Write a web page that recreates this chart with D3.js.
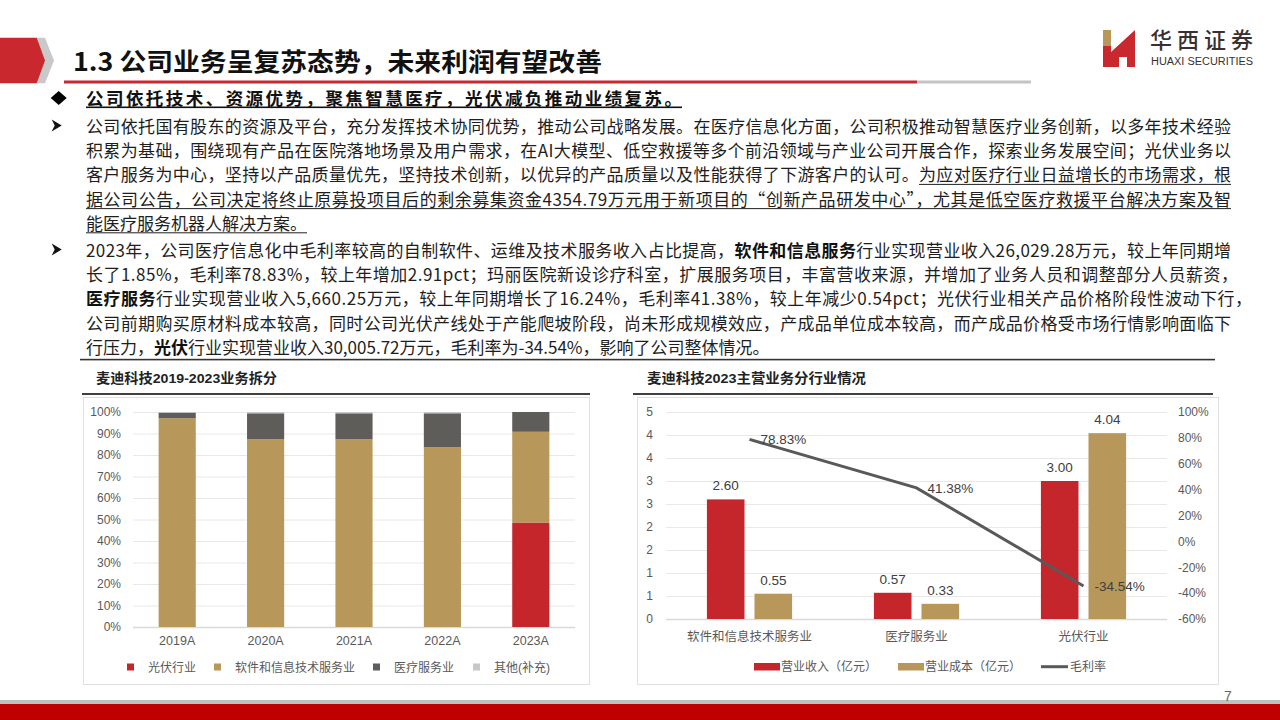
<!DOCTYPE html>
<html><head><meta charset="utf-8">
<script src="https://cdn.jsdelivr.net/npm/d3@7"></script>
<style>
body{margin:0;background:#fff;}
svg{display:block;}
text{font-family:"Noto Sans CJK SC","Noto Sans",sans-serif;}
.ch text{font-family:"Liberation Sans","Noto Sans CJK SC",sans-serif;}
</style></head>
<body>
<svg id="s" width="1280" height="720"></svg>
<script>
// ---------- data ----------
const years = ["2019A","2020A","2021A","2022A","2023A"];
const pvShare    = [0, 0, 0, 0, 48.6];
const swShare    = [97.1, 87.3, 87.3, 83.6, 42.2];
const medShare   = [2.6, 12.1, 12.1, 15.8, 9.2];
const otherShare = [0.3, 0.6, 0.6, 0.6, 0.0];
const shareKeys  = ["光伏行业","软件和信息技术服务业","医疗服务业","其他(补充)"];
const shareTicks = [0,10,20,30,40,50,60,70,80,90,100];

const segments = ["软件和信息技术服务业","医疗服务业","光伏行业"];
const revenue  = [2.60, 0.57, 3.00];
const cost     = [0.55, 0.33, 4.04];
const margin   = [78.83, 41.38, -34.54];
const amountTicks      = [0,0.5,1,1.5,2,2.5,3,3.5,4,4.5];
const amountTickLabels = ["0","1","1","2","2","3","3","4","4","5"];
const marginTicks = [-60,-40,-20,0,20,40,60,80,100];
const legendR = ["营业收入（亿元）","营业成本（亿元）","毛利率"];

// ---------- styles ----------
const RED="#C5262C", TAN="#B8975A", DARK="#5E5D5A", LIGHT="#C8C8C8", TXT="#595959";
const svg = d3.select("#s");

// ---------- header ----------
svg.append("polygon").attr("points","37,37.7 45,37.7 54,60.5 45,83.3 37,83.3").attr("fill","#C9C9C9");
svg.append("polygon").attr("points","0,37.7 36.7,37.7 45,60.5 36.7,83.3 0,83.3").attr("fill","#C8282E");
svg.append("text").attr("x",73).attr("y",71).attr("font-size",25).attr("font-weight","bold")
  .attr("fill","#111").attr("textLength",529).attr("lengthAdjust","spacingAndGlyphs")
  .text("1.3 公司业务呈复苏态势，未来利润有望改善");
svg.append("rect").attr("x",64).attr("y",80.5).attr("width",853).attr("height",3).attr("fill","#C8282E");
svg.append("rect").attr("x",917).attr("y",80.5).attr("width",114).attr("height",3).attr("fill","#C4C4C4");

// logo
svg.append("rect").attr("x",1103).attr("y",30).attr("width",8).attr("height",16).attr("fill","#B8975A");
svg.append("rect").attr("x",1103).attr("y",46).attr("width",8).attr("height",21).attr("fill","#C8282E");
svg.append("polygon").attr("points","1111,52 1135,30 1135,67 1127,67 1127,57 1119,57 1119,67 1111,67").attr("fill","#C8282E");
svg.append("text").attr("x",1150).attr("y",48).attr("font-size",22).attr("font-weight",500)
  .attr("fill","#3a3030").attr("textLength",103).attr("lengthAdjust","spacing").text("华西证券");
svg.append("text").attr("x",1151).attr("y",64.5).attr("font-size",10).attr("fill","#3a3030")
  .style("font-family","Liberation Sans Narrow, Liberation Sans").attr("textLength",102).attr("lengthAdjust","spacingAndGlyphs")
  .text("HUAXI SECURITIES");

// ---------- bullet text ----------
svg.append("polygon").attr("points","50.7,98 58.7,91 66.7,98 58.7,105").attr("fill","#000");
svg.append("text").attr("x",86).attr("y",105).attr("font-size",17.5).attr("font-weight","bold").attr("fill","#111")
  .attr("textLength",596).attr("lengthAdjust","spacing")
  .text("公司依托技术、资源优势，聚焦智慧医疗，光伏减负推动业绩复苏。");
svg.append("rect").attr("x",86).attr("y",106.5).attr("width",596).attr("height",1.6).attr("fill","#111");

const para = [
  {y:133, arrow:true, len:1145, segs:[["公司依托国有股东的资源及平台，充分发挥技术协同优势，推动公司战略发展。在医疗信息化方面，公司积极推动智慧医疗业务创新，以多年技术经验",0,0]]},
  {y:157.2, len:1145, segs:[["积累为基础，围绕现有产品在医院落地场景及用户需求，在AI大模型、低空救援等多个前沿领域与产业公司开展合作，探索业务发展空间；光伏业务以",0,0]]},
  {y:181.4, len:1145, segs:[["客户服务为中心，坚持以产品质量优先，坚持技术创新，以优异的产品质量以及性能获得了下游客户的认可。",0,0],["为应对医疗行业日益增长的市场需求，根",0,1]]},
  {y:205.6, len:1145, segs:[["据公司公告，公司决定将终止原募投项目后的剩余募集资金4354.79万元用于新项目的“创新产品研发中心”，尤其是低空医疗救援平台解决方案及智",0,1]]},
  {y:229.8, segs:[["能医疗服务机器人解决方案。",0,1]]},
  {y:257, arrow:true, len:1145, segs:[["2023年，公司医疗信息化中毛利率较高的自制软件、运维及技术服务收入占比提高，",0,0],["软件和信息服务",1,0],["行业实现营业收入26,029.28万元，较上年同期增",0,0]]},
  {y:281.2, len:1152, segs:[["长了1.85%，毛利率78.83%，较上年增加2.91pct；玛丽医院新设诊疗科室，扩展服务项目，丰富营收来源，并增加了业务人员和调整部分人员薪资，",0,0]]},
  {y:305.4, len:1166, segs:[["医疗服务",1,0],["行业实现营业收入5,660.25万元，较上年同期增长了16.24%，毛利率41.38%，较上年减少0.54pct；光伏行业相关产品价格阶段性波动下行，",0,0]]},
  {y:329.6, len:1145, segs:[["公司前期购买原材料成本较高，同时公司光伏产线处于产能爬坡阶段，尚未形成规模效应，产成品单位成本较高，而产成品价格受市场行情影响面临下",0,0]]},
  {y:353.8, segs:[["行压力，",0,0],["光伏",1,0],["行业实现营业收入30,005.72万元，毛利率为-34.54%，影响了公司整体情况。",0,0]]}
];
para.forEach(p=>{
  if(p.arrow){
    const c=p.y-7.5;
    svg.append("polygon").attr("points",`51.7,${c-6} 61.7,${c} 51.7,${c+6} 54.7,${c}`).attr("fill","#111");
  }
  const t = svg.append("text").attr("x",86).attr("y",p.y).attr("font-size",17).attr("fill","#1e1e1e");
  if(p.len) t.attr("textLength",p.len).attr("lengthAdjust","spacing");
  p.segs.forEach(s=>{
    const ts=t.append("tspan").text(s[0]);
    if(s[1]) ts.attr("font-weight","bold").attr("fill","#111");
  });
  const node=t.node();
  let idx=0;
  p.segs.forEach(s=>{
    const n=[...s[0]].length;
    if(s[2]){
      const x0=node.getStartPositionOfChar(idx).x;
      const x1=node.getEndPositionOfChar(idx+n-1).x;
      svg.append("rect").attr("x",x0).attr("y",p.y+2.5).attr("width",x1-x0).attr("height",1).attr("fill","#222");
    }
    idx+=n;
  });
});
svg.append("rect").attr("x",80).attr("y",358.8).attr("width",1135).attr("height",1.6).attr("fill","#333");

// ---------- left chart ----------
const L = svg.append("g").attr("class","ch");
L.append("text").attr("x",96).attr("y",383).attr("font-size",13.5).attr("font-weight","bold").attr("fill","#222")
  .attr("textLength",181).attr("lengthAdjust","spacingAndGlyphs").text("麦迪科技2019-2023业务拆分");
L.append("rect").attr("x",82).attr("y",393).attr("width",508).attr("height",2).attr("fill","#404040");
L.append("rect").attr("x",83.5).attr("y",397.5).attr("width",506).attr("height",287).attr("fill","#fff").attr("stroke","#E0E0E0");

const xL = d3.scaleBand().domain(years).range([133,575]).paddingInner(0.58).paddingOuter(0.29);
const yL = d3.scaleLinear().domain([0,100]).range([627,412]);
const gridL = L.append("g").attr("transform","translate(133,0)")
  .call(d3.axisLeft(yL).tickValues(shareTicks).tickSize(-442).tickPadding(12).tickFormat(d=>d+"%"));
gridL.select(".domain").remove();
gridL.selectAll("line").attr("stroke",d=>d===0?"#D9D9D9":"#E8E8E8").attr("stroke-width",d=>d===0?1.5:1);
gridL.selectAll("text").attr("fill",TXT).attr("font-size",12);

const table = years.map((y,i)=>({year:y,"光伏行业":pvShare[i],"软件和信息技术服务业":swShare[i],"医疗服务业":medShare[i],"其他(补充)":otherShare[i]}));
const stack = d3.stack().keys(shareKeys)(table);
const colL = d3.scaleOrdinal().domain(shareKeys).range([RED,TAN,DARK,LIGHT]);
L.append("g").selectAll("g").data(stack).join("g").attr("fill",d=>colL(d.key))
  .selectAll("rect").data(d=>d).join("rect")
  .attr("x",d=>xL(d.data.year)).attr("width",xL.bandwidth())
  .attr("y",d=>yL(d[1])).attr("height",d=>Math.max(0,yL(d[0])-yL(d[1])));
const axL = L.append("g").attr("transform","translate(0,627)")
  .call(d3.axisBottom(xL).tickSize(0).tickPadding(9));
axL.select(".domain").remove();
axL.selectAll("text").attr("fill",TXT).attr("font-size",12.5);

const legLx = [127,214,373,473];
shareKeys.forEach((k,i)=>{
  L.append("rect").attr("x",legLx[i]).attr("y",663.5).attr("width",7).attr("height",7).attr("fill",colL(k));
  L.append("text").attr("x",legLx[i]+21).attr("y",671.5).attr("font-size",12).attr("fill",TXT).text(k);
});

// ---------- right chart ----------
const R = svg.append("g").attr("class","ch");
R.append("text").attr("x",647).attr("y",383).attr("font-size",13.5).attr("font-weight","bold").attr("fill","#222")
  .attr("textLength",219).attr("lengthAdjust","spacingAndGlyphs").text("麦迪科技2023主营业务分行业情况");
R.append("rect").attr("x",633).attr("y",393).attr("width",580).attr("height",2).attr("fill","#404040");
R.append("rect").attr("x",637.5).attr("y",397.5).attr("width",581).attr("height",287).attr("fill","#fff").attr("stroke","#E0E0E0");

const x0 = d3.scaleBand().domain(segments).range([666,1167]).paddingInner(0.49).paddingOuter(0.245);
const x1 = d3.scaleBand().domain(["rev","cost"]).range([0,x0.bandwidth()]).paddingInner(0.21);
const yA = d3.scaleLinear().domain([0,4.5]).range([619,412]);
const yM = d3.scaleLinear().domain([-60,100]).range([619,412]);

const gA = R.append("g").attr("transform","translate(666,0)")
  .call(d3.axisLeft(yA).tickValues(amountTicks).tickSize(-501).tickPadding(13).tickFormat((d,i)=>amountTickLabels[i]));
gA.select(".domain").remove();
gA.selectAll("line").attr("stroke",d=>d===0?"#D9D9D9":"#E8E8E8").attr("stroke-width",d=>d===0?1.5:1.2);
gA.selectAll("text").attr("fill",TXT).attr("font-size",12);
const gM = R.append("g").attr("transform","translate(1167,0)")
  .call(d3.axisRight(yM).tickValues(marginTicks).tickSize(0).tickPadding(11).tickFormat(d=>d+"%"));
gM.select(".domain").remove();
gM.selectAll("text").attr("fill",TXT).attr("font-size",12);

const rows = segments.map((s,i)=>({seg:s,rev:revenue[i],cost:cost[i],m:margin[i]}));
const grp = R.append("g").selectAll("g").data(rows).join("g").attr("transform",d=>`translate(${x0(d.seg)},0)`);
[["rev",RED],["cost",TAN]].forEach(([k,c])=>{
  grp.append("rect").attr("x",x1(k)).attr("width",x1.bandwidth())
    .attr("y",d=>yA(d[k])).attr("height",d=>yA(0)-yA(d[k])).attr("fill",c);
  grp.append("text").attr("x",x1(k)+x1.bandwidth()/2).attr("y",d=>yA(d[k])-9)
    .attr("text-anchor","middle").attr("font-size",13.5).attr("fill","#404040").text(d=>d[k].toFixed(2));
});
const cx = d=>x0(d.seg)+x0.bandwidth()/2;
R.append("path").datum(rows).attr("fill","none").attr("stroke","#595959").attr("stroke-width",3)
  .attr("d",d3.line().x(cx).y(d=>yM(d.m)));
R.append("g").selectAll("text").data(rows).join("text")
  .attr("x",d=>cx(d)+11).attr("y",d=>yM(d.m)+5).attr("font-size",13.5).attr("fill","#404040")
  .text(d=>d.m.toFixed(2)+"%");

const axR = R.append("g").attr("transform","translate(0,619)")
  .call(d3.axisBottom(x0).tickSize(0).tickPadding(13));
axR.select(".domain").remove();
axR.selectAll("text").attr("fill",TXT).attr("font-size",12.5);

R.append("rect").attr("x",754).attr("y",663).attr("width",26).attr("height",7.5).attr("fill",RED);
R.append("text").attr("x",781).attr("y",671).attr("font-size",12).attr("fill",TXT).text(legendR[0]);
R.append("rect").attr("x",898).attr("y",663).attr("width",26).attr("height",7.5).attr("fill",TAN);
R.append("text").attr("x",925).attr("y",671).attr("font-size",12).attr("fill",TXT).text(legendR[1]);
R.append("line").attr("x1",1041).attr("x2",1068).attr("y1",666.7).attr("y2",666.7).attr("stroke","#595959").attr("stroke-width",3);
R.append("text").attr("x",1070).attr("y",671).attr("font-size",12).attr("fill",TXT).text(legendR[2]);

// ---------- footer ----------
svg.append("rect").attr("x",0).attr("y",700).attr("width",1280).attr("height",4).attr("fill","#C0C0C0");
svg.append("rect").attr("x",0).attr("y",704).attr("width",1280).attr("height",16).attr("fill","#C00000");
svg.append("text").attr("x",1224).attr("y",701).attr("font-size",14).attr("fill","#666")
  .style("font-family","Liberation Sans").text("7");
</script>
</body></html>
